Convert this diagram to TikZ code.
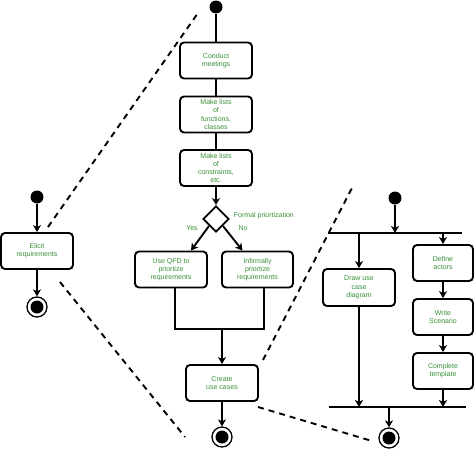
\documentclass[tikz,border=0pt]{standalone}
\usepackage{fontspec}
\setmainfont{Liberation Sans}
\usepackage{tikz}
\usetikzlibrary{arrows.meta,calc}
\usetikzlibrary{shapes.geometric}
\usepackage{xcolor}
\definecolor{label}{HTML}{378F37}

\begin{document}
\begin{tikzpicture}[x=1pt,y=1pt,
		%Option for nice arrows%
		>={Stealth[length=7pt,width=8pt,inset=2pt]},%
		line width=1.9pt,%
		activity/.style={draw, rounded corners=4pt, fill=white, inner sep=1pt,
			align=center, text=label, font=\fontsize{7}{8.2}\selectfont,
			minimum width=72pt, minimum height=36pt},%
		smallact/.style={activity, minimum width=60pt},%
		startdot/.style={circle, fill=black, inner sep=0pt, minimum size=13pt},%
		enddot/.style={circle, draw, line width=1.3pt, fill=white, inner sep=0pt,
			minimum size=20pt, path picture={\fill[black] (path picture bounding box.center) circle (6.5pt);}},%
		decision/.style={diamond, draw, fill=white, inner sep=0pt, minimum width=26pt, minimum height=26pt},%
		guard/.style={text=label, font=\fontsize{7}{8.5}\selectfont, inner sep=1pt},%
		bar/.style={line width=2.5pt},%
		zoomline/.style={dashed, dash pattern=on 6pt off 5pt, line width=1.9pt}%
		]
		%% frame of the page
		\useasboundingbox (0,0) rectangle (474,-450);
		%
		%% left: the whole process
		\node[startdot] (leftstart) at (37,-197) {};
		\node[activity] (elicit) at (37,-251) {Elicit\\requirements};
		\node[enddot] (leftend) at (37,-307) {};
		\draw[->] (leftstart) -- (elicit);
		\draw[->] (elicit) -- (leftend);
		%
		%% middle: elicitation in detail
		\node[startdot] (midstart) at (216,-7) {};
		\node[activity] (meet) at (216,-60.5) {Conduct\\meetings};
		\node[activity] (funcs) at (216,-114.5) {Make lists\\of\\functions,\\classes};
		\node[activity] (cons) at (216,-168) {Make lists\\of\\constraints,\\etc.};
		\node[decision] (prio) at (216,-219) {};
		\node[guard, anchor=west] (formal) at (232,-216) {Formal priortization};
		\node[activity] (qfd) at (171,-269.5) {Use QFD to\\priortize\\requirements};
		\node[activity, minimum width=71pt] (infor) at (257.5,-269.5) {Infirmally\\priortize\\requirements};
		\node[guard] (yes) at (192,-228) {Yes};
		\node[guard] (no) at (243,-228) {No};
		\coordinate (merge) at (222,-329);
		\node[activity] (usecases) at (222,-383) {Create\\use cases};
		\node[enddot] (midend) at (222,-437) {};
		%
		\draw (midstart) -- (meet);
		\draw (meet) -- (funcs);
		\draw (funcs) -- (cons);
		\draw[->] (cons) -- (prio);
		\draw[->] (prio.south west) -- ([xshift=20pt]qfd.north);
		\draw[->] (prio.south east) -- ([xshift=-15pt]infor.north);
		\draw ([xshift=4pt]qfd.south) |- (merge) -| ([xshift=6.5pt]infor.south);
		\draw[->] (merge) -- (usecases);
		\draw[->] (usecases) -- (midend);
		%
		%% right: use cases in detail
		\node[startdot] (rightstart) at (395,-198) {};
		\coordinate (forkL) at (328,-233);
		\coordinate (forkR) at (462,-233);
		\node[activity, minimum height=37pt] (diagram) at (359,-287.5) {Draw use\\case\\diagram};
		\node[smallact] (actors) at (443,-263) {Define\\actors};
		\node[smallact] (scenario) at (443,-317) {Write\\Scenario};
		\node[smallact] (template) at (443,-371) {Complete\\template};
		\coordinate (joinL) at (329,-407);
		\coordinate (joinR) at (466,-407);
		\node[enddot] (rightend) at (389,-438) {};
		%
		\draw[bar] (forkL) -- (forkR);
		\draw[bar] (joinL) -- (joinR);
		\draw[->] (rightstart) -- (rightstart |- forkL);
		\draw[->] (diagram |- forkL) -- (diagram);
		\draw[->] (actors |- forkL) -- (actors);
		\draw[->] (actors) -- (scenario);
		\draw[->] (scenario) -- (template);
		\draw[->] (diagram) -- (diagram |- joinL);
		\draw[->] (template) -- (template |- joinL);
		\draw[->] (rightend |- joinL) -- (rightend);
		%
		%% zoom lines
		\coordinate (zA1) at (48,-227);   \coordinate (zA2) at (198,-13);
		\coordinate (zB1) at (60,-282);   \coordinate (zB2) at (185,-437);
		\coordinate (zC1) at (263,-360);  \coordinate (zC2) at (353,-186);
		\coordinate (zD1) at (258,-407);  \coordinate (zD2) at (372,-441);
		\draw[zoomline] (zA1) -- (zA2);
		\draw[zoomline] (zB1) -- (zB2);
		\draw[zoomline] (zC1) -- (zC2);
		\draw[zoomline] (zD1) -- (zD2);
	\end{tikzpicture}
\end{document}
